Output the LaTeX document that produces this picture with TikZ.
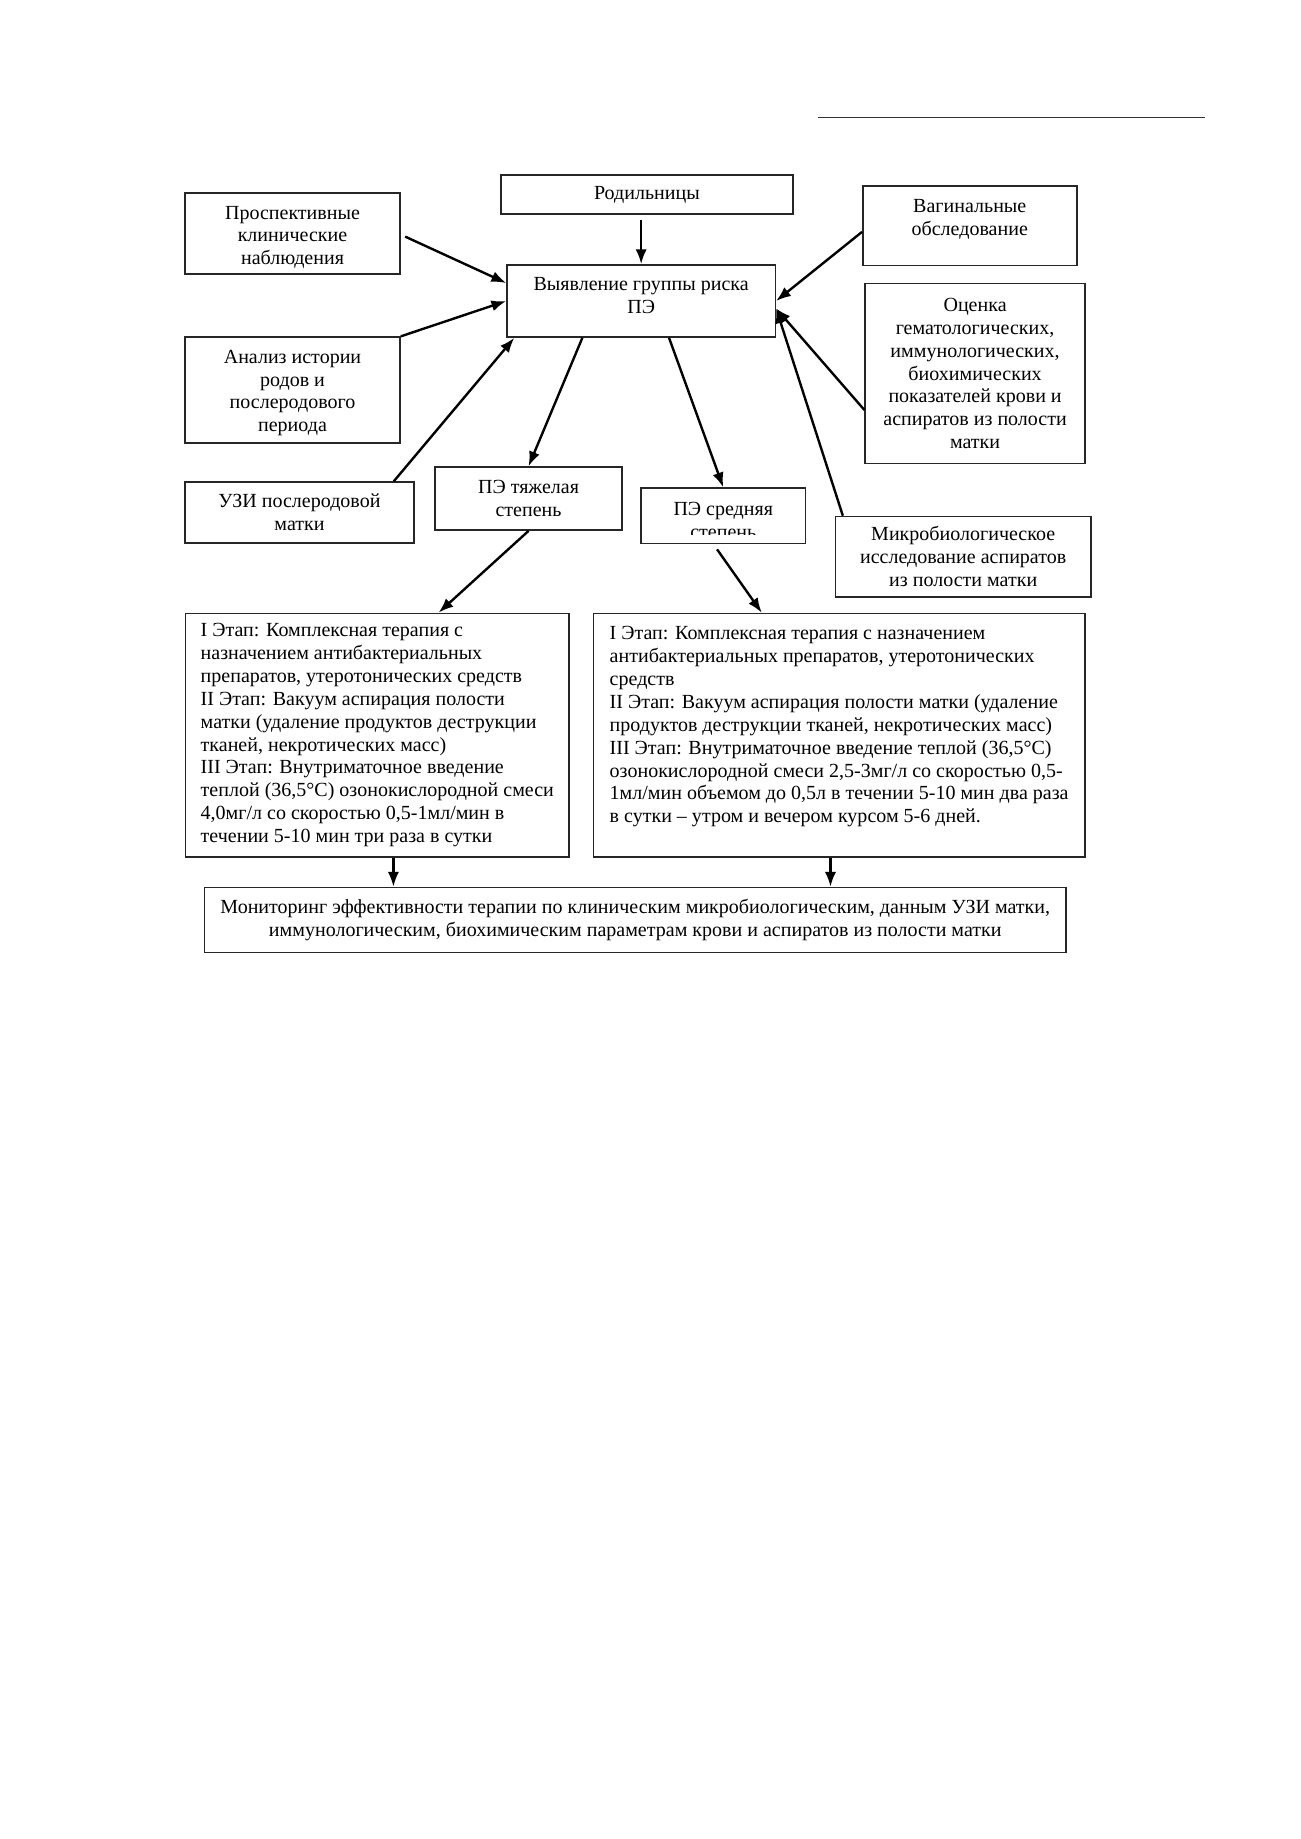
\documentclass[tikz,border=0pt]{standalone}
\usepackage{fontspec}
\setmainfont{Liberation Serif}
\usetikzlibrary{arrows.meta}

\tikzset{
	box/.style = {draw = black!85,
				  line width = 0.7pt,
				  shape = rectangle,
				  inner sep = 0.12cm,
				  align = center,
				  font = \fontsize{9.2}{10.5}\selectfont},
	topbox/.style 2 args = {text height = #1,
							text depth = #2,
							inner ysep = 0.12cm},
	boxtext/.style = {inner sep = 0pt,
					  align = center,
					  font = \fontsize{9.2}{10.5}\selectfont}
}

\begin{document}
\begin{tikzpicture}[>={Latex[length = 2.4mm, width = 1.8mm]},
					line width = 1.1pt]

	\useasboundingbox (0,0) rectangle (21,-29.706);

	% header rule
	\draw[line width = 0.7pt, black!80] (13.21,-1.896) -- (19.46,-1.896);

	\node[box,
		  minimum width = 4.72cm,
		  minimum height = 0.63cm](rod) at (10.450,-3.140){Родильницы};
	\node[box,
		  minimum width = 3.475cm,
		  topbox = {1.04cm}{0.03cm}](prosp) at (4.725,-3.772){Проспективные\\клинические\\наблюдения};
	\node[box,
		  minimum width = 3.456cm,
		  topbox = {0.67cm}{0.37cm}](vag) at (15.665,-3.646){Вагинальные\\обследование};
	\node[box,
		  minimum width = 4.334cm,
		  topbox = {0.67cm}{0.255cm}](risk) at (10.357,-4.862){Выявление группы риска\\ПЭ};
	\node[box,
		  minimum width = 3.551cm,
		  minimum height = 2.902cm](ocenka) at (15.751,-6.033){Оценка\\гематологических,\\иммунологических,\\биохимических\\показателей крови и\\аспиратов из полости\\матки};
	\node[box,
		  minimum width = 3.475cm,
		  topbox = {1.41cm}{0.06cm}](anamnez) at (4.725,-6.300){Анализ истории\\родов и\\послеродового\\периода};
	\node[box,
		  minimum width = 3.700cm,
		  minimum height = 0.985cm](uzi) at (4.838,-8.280){УЗИ послеродовой\\матки};
	\node[box,
		  minimum width = 3.020cm,
		  minimum height = 1.018cm](heavy) at (8.538,-8.054){ПЭ тяжелая\\степень};
	% text of this box runs out of its frame
	\node[box,
		  minimum width = 2.654cm,
		  minimum height = 0.897cm,
		  path picture = {
			\clip ([yshift = 0.15cm]path picture bounding box.south west)
				rectangle (path picture bounding box.north east);
			\node[boxtext, anchor = base](mediumtext)
				at ([yshift = -0.81cm]path picture bounding box.north){ПЭ средняя\\степень};
		  }](medium) at (11.683,-8.333){};
	\node[box,
		  minimum width = 4.124cm,
		  minimum height = 1.298cm](micro) at (15.559,-8.992){Микробиологическое\\исследование аспиратов\\из полости матки};

	\node[box,
		  align = left,
		  minimum width = 6.19cm,
		  minimum height = 3.933cm](therH) at (6.095,-11.875){I Этап: Комплексная терапия с\\
			назначением антибактериальных\\
			препаратов, утеротонических средств\\
			II Этап: Вакуум аспирация полости\\
			матки (удаление продуктов деструкции\\
			тканей, некротических масс)\\
			III Этап: Внутриматочное введение\\
			теплой (36,5°C) озонокислородной смеси\\
			4,0мг/л со скоростью 0,5-1мл/мин в\\
			течении 5-10 мин три раза в сутки};
	\node[box,
		  align = left,
		  minimum width = 7.94cm,
		  topbox = {3.26cm}{0.43cm}](therM) at (13.555,-11.875){I Этап: Комплексная терапия с назначением\\
			антибактериальных препаратов, утеротонических\\
			средств\\
			II Этап: Вакуум аспирация полости матки (удаление\\
			продуктов деструкции тканей, некротических масс)\\
			III Этап: Внутриматочное введение теплой (36,5°C)\\
			озонокислородной смеси 2,5-3мг/л со скоростью 0,5-\\
			1мл/мин объемом до 0,5л в течении 5-10 мин два раза\\
			в сутки – утром и вечером курсом 5-6 дней.};

	\node[box,
		  minimum width = 13.917cm,
		  minimum height = 1.05cm](monitor) at (10.262,-14.862){Мониторинг эффективности терапии по клиническим микробиологическим, данным УЗИ матки,\\
			иммунологическим, биохимическим параметрам крови и аспиратов из полости матки};

	% into the risk group
	\coordinate (rodout) at ([yshift = -0.08cm]rod.south);
	\draw[->] (rodout -| risk.north) -- (risk.north);
	\draw[->] ([xshift = 0.07cm, yshift = -0.05cm]prosp.east) -- ([yshift = 0.29cm]risk.west);
	\draw[->] (anamnez.north east) -- (risk.west);
	\draw[->] ([xshift = -0.34cm]uzi.north east) -- ([xshift = 0.13cm]risk.south west);
	\draw[->] ([yshift = -0.1cm]vag.west) -- (risk.east);
	\draw[->] ([yshift = -0.59cm]ocenka.west) -- ([yshift = -0.12cm]risk.east);
	\draw[->] ([xshift = 0.13cm]micro.north west) -- ([yshift = -0.12cm]risk.east);

	% severity
	\draw[->] ([xshift = -0.95cm]risk.south) -- (heavy.north);
	\draw[->] ([xshift = 0.45cm]risk.south) -- (medium.north);

	% therapy
	\draw[->] (heavy.south) -- ([xshift = 0.99cm]therH.north);
	\draw[->] ([xshift = -0.1cm, yshift = -0.08cm]medium.south) -- ([xshift = -1.25cm]therM.north);

	% monitoring
	\coordinate (hout) at ([xshift = 0.26cm]therH.south);
	\coordinate (mout) at ([xshift = -0.14cm]therM.south);
	\draw[->] (hout) -- (hout |- monitor.north);
	\draw[->] (mout) -- (mout |- monitor.north);

\end{tikzpicture}
\end{document}
